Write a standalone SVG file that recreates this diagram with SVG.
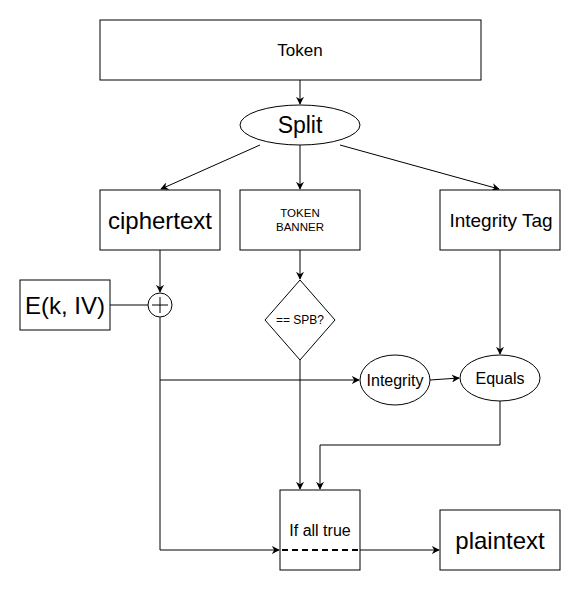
<svg xmlns="http://www.w3.org/2000/svg" width="581" height="591" viewBox="0 0 581 591">
<defs>
<style>
.n{fill:#fff;stroke:#000;stroke-width:1}
.t{font-family:"Liberation Sans",Arial,sans-serif;fill:#000;text-anchor:middle;dominant-baseline:central}
.c{fill:none;stroke:#000;stroke-width:1}
</style>
<marker id="a" viewBox="0 0 10 10" refX="9" refY="5" markerWidth="8" markerHeight="8" markerUnits="userSpaceOnUse" orient="auto">
<path d="M0,0 L10,5 L0,10 L3,5 Z" fill="#000"/>
</marker>
</defs>
<rect width="581" height="591" fill="#fff"/>
<g id="connectors">
<path class="c" d="M300,80 V104" marker-end="url(#a)"/>
<path class="c" d="M260,145 L161,189" marker-end="url(#a)"/>
<path class="c" d="M300,145 V189" marker-end="url(#a)"/>
<path class="c" d="M340,145 L499,189" marker-end="url(#a)"/>
<path class="c" d="M160,250 V292" marker-end="url(#a)"/>
<path class="c" d="M110,305 H148"/>
<path class="c" d="M160,317 V550 H279" marker-end="url(#a)"/>
<path class="c" d="M160,380 H359" marker-end="url(#a)"/>
<path class="c" d="M300,250 V279" marker-end="url(#a)"/>
<path class="c" d="M300,360 V489" marker-end="url(#a)"/>
<path class="c" d="M430,380 L459,378" marker-end="url(#a)"/>
<path class="c" d="M500,250 V354" marker-end="url(#a)"/>
<path class="c" d="M500,401 V445 H320 V489" marker-end="url(#a)"/>
<path class="c" d="M360,550 H439" marker-end="url(#a)"/>
</g>
<g id="token"><rect class="n" x="100" y="20" width="381" height="60"/><text class="t" x="300" y="50" font-size="17">Token</text></g>
<g id="split"><ellipse class="n" cx="300" cy="125" rx="60" ry="20"/><text class="t" x="300" y="125" font-size="23">Split</text></g>
<g id="ciphertext"><rect class="n" x="100" y="190" width="120" height="60"/><text class="t" x="160" y="220" font-size="24">ciphertext</text></g>
<g id="banner"><rect class="n" x="240" y="190" width="120" height="60"/><text class="t" x="300" y="213" font-size="11.5">TOKEN</text><text class="t" x="300" y="227" font-size="11.5">BANNER</text></g>
<g id="tag"><rect class="n" x="440" y="190" width="120" height="60"/><text class="t" x="501" y="220" font-size="19">Integrity Tag</text></g>
<g id="ekiv"><rect class="n" x="20" y="280" width="90" height="50"/><text class="t" x="65" y="305" font-size="24">E(k, IV)</text></g>
<g id="xor"><circle class="n" cx="160" cy="305" r="12"/><path d="M152,305 H168 M160,297 V313" stroke="#000" stroke-width="1" fill="none"/></g>
<g id="spb"><path class="n" d="M300,280 L335,320 L300,360 L265,320 Z"/><text class="t" x="300" y="320" font-size="12">== SPB?</text></g>
<g id="integrity"><ellipse class="n" cx="395" cy="380" rx="35" ry="25"/><text class="t" x="395" y="380" font-size="16">Integrity</text></g>
<g id="equals"><ellipse class="n" cx="500" cy="378" rx="40" ry="23"/><text class="t" x="500" y="378" font-size="16">Equals</text></g>
<g id="allTrue"><rect class="n" x="280" y="490" width="80" height="80"/><text class="t" x="320" y="530" font-size="16">If all true</text><path d="M282,550 H360" stroke="#000" stroke-width="2" stroke-dasharray="6,4" fill="none"/></g>
<g id="plaintext"><rect class="n" x="440" y="510" width="120" height="60"/><text class="t" x="500" y="540" font-size="24">plaintext</text></g>
</svg>
